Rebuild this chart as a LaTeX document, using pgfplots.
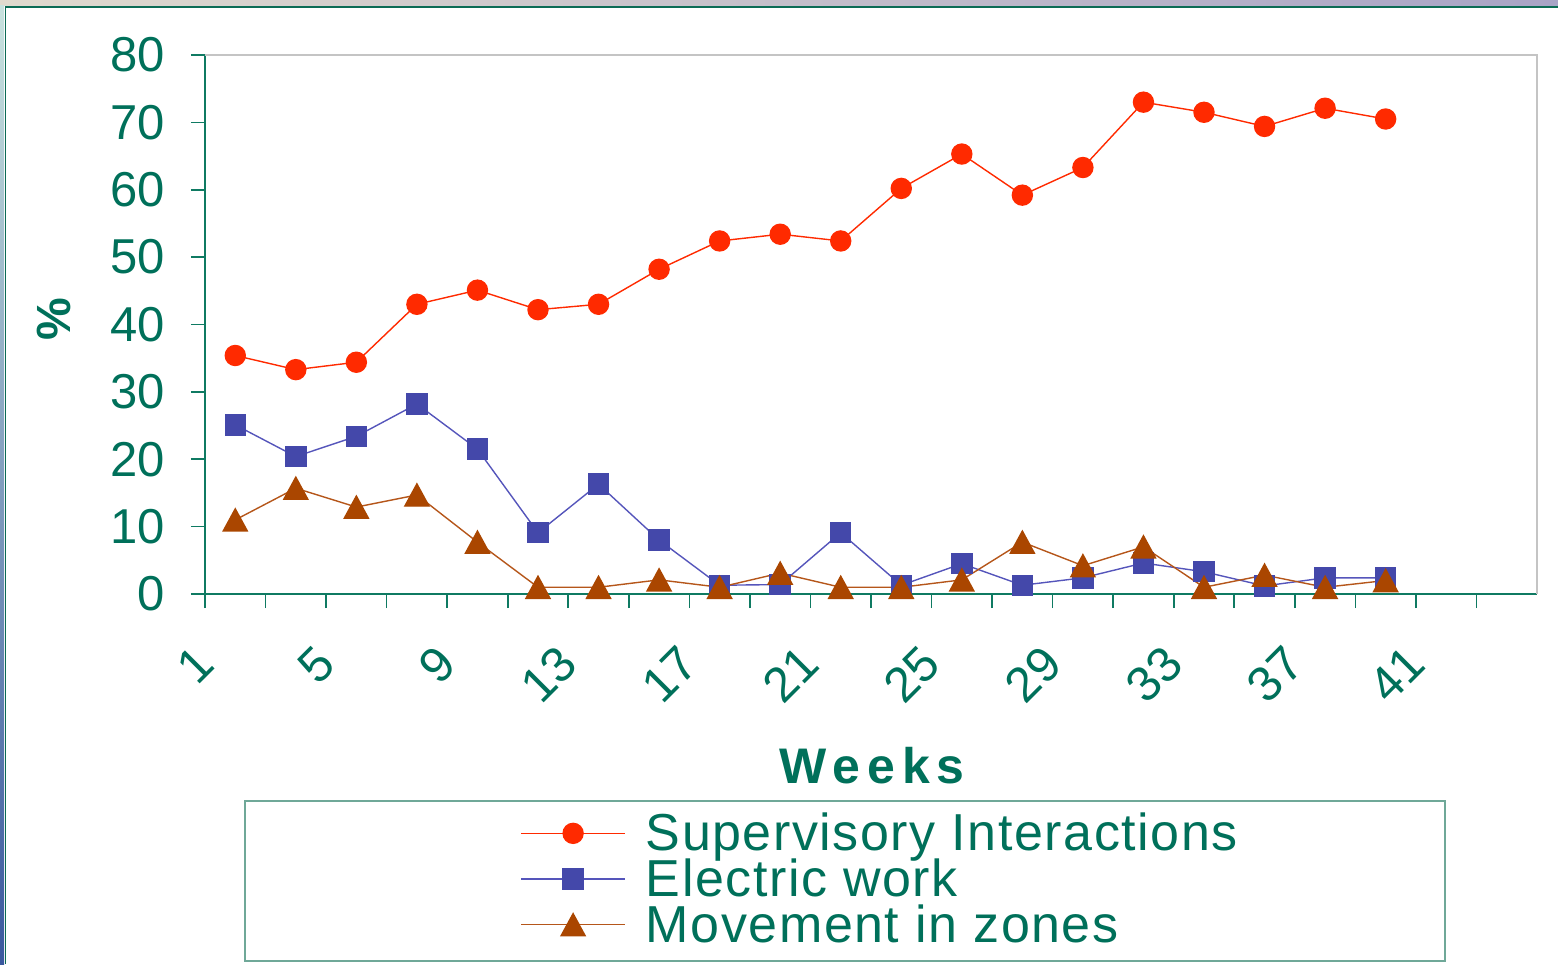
\documentclass[border=0pt]{standalone}
\usepackage{fontspec}
\setmainfont{Liberation Sans}
\usepackage{pgfplots}
\pgfplotsset{compat=1.18}

\definecolor{txt}{HTML}{00705A}
\definecolor{axteal}{HTML}{0F7A62}
\definecolor{frameteal}{HTML}{0C6B55}
\definecolor{lgframe}{HTML}{6FA898}
\definecolor{boxgrey}{HTML}{C4C4C4}
\definecolor{supred}{HTML}{FF2A00}
\definecolor{elblue}{HTML}{4448AA}
\definecolor{elline}{HTML}{5555BB}
\definecolor{mvbrown}{HTML}{AA4600}
\definecolor{mvline}{HTML}{B5561A}
\definecolor{topL}{RGB}{224,218,206}
\definecolor{topR}{RGB}{168,164,198}
\definecolor{sideT}{RGB}{200,226,222}
\definecolor{sideB}{RGB}{58,88,158}

% triangle centred on its bounding box
\pgfdeclareplotmark{ctri}{%
  \pgfpathmoveto{\pgfqpoint{0pt}{0.92\pgfplotmarksize}}%
  \pgfpathlineto{\pgfqpoint{-\pgfplotmarksize}{-0.92\pgfplotmarksize}}%
  \pgfpathlineto{\pgfqpoint{\pgfplotmarksize}{-0.92\pgfplotmarksize}}%
  \pgfpathclose
  \pgfusepathqfillstroke}

\begin{document}
\begin{tikzpicture}
\begin{axis}[
  at={(102.5pt,185pt)}, anchor=south west,
  scale only axis, width=666pt, height=269.5pt,
  xmin=1, xmax=45, ymin=0, ymax=80,
  axis x line=bottom, axis y line=left,
  axis line style={-, axteal, line width=0.9pt},
  xtick={1,5,...,41}, minor xtick={3,7,...,45},
  ytick={0,10,...,80},
  tick align=outside,
  major tick length=7pt, minor tick length=7pt,
  tick style={axteal, line width=0.8pt},
  /pgf/number format/assume math mode=true,
  ticklabel style={font=\fontsize{24.5}{24.5}\selectfont, text=txt, inner sep=0pt},
  xticklabel style={rotate=45, anchor=east},
  xticklabel shift=23.5pt,
  yticklabel style={anchor=east},
  yticklabel shift=13pt,
  xlabel={\addfontfeature{LetterSpace=14}Weeks},
  xlabel style={font=\fontsize{25}{25}\selectfont\bfseries, text=txt,
    at={(axis description cs:0.5008,-0.319)}, anchor=center},
  ylabel={\%},
  ylabel style={font=\fontsize{24}{24}\selectfont\bfseries, text=txt,
    at={(axis description cs:-0.113,0.51)}, anchor=center},
  legend style={at={(axis description cs:0.2365,-0.4056)}, anchor=north west,
    draw=none, fill=none, inner sep=0pt, row sep=2.5pt, column sep=10pt,
    font=\fontsize{26}{26}\selectfont\addfontfeature{LetterSpace=3}, text=txt,
    nodes={inner sep=0pt}},
  legend cell align=left,
  legend image code/.code={%
    \draw[mark repeat=2, mark phase=2] plot coordinates {(0pt,0pt) (26pt,0pt) (52pt,0pt)};},
  clip=false,
]
\draw[boxgrey, line width=1pt] (rel axis cs:0,1) -- (rel axis cs:1,1) -- (rel axis cs:1,0);

\addplot[supred, line width=0.7pt, mark=*, mark size=5pt,
  mark options={fill=supred, draw=supred}]
coordinates {
 (2,35.4) (4,33.3) (6,34.4) (8,43.0) (10,45.1) (12,42.2) (14,43.0) (16,48.2)
 (18,52.4) (20,53.4) (22,52.4) (24,60.2) (26,65.3) (28,59.2) (30,63.3)
 (32,73.0) (34,71.5) (36,69.4) (38,72.1) (40,70.5)
};
\addlegendentry{Supervisory Interactions}

\addplot[elline, line width=0.7pt, mark=square*, mark size=5pt,
  mark options={fill=elblue, draw=elblue}]
coordinates {
 (2,25.1) (4,20.4) (6,23.4) (8,28.2) (10,21.5) (12,9.1) (14,16.3) (16,8.0)
 (18,1.3) (20,1.4) (22,9.1) (24,1.3) (26,4.5) (28,1.3) (30,2.4)
 (32,4.6) (34,3.3) (36,1.2) (38,2.4) (40,2.4)
};
\addlegendentry{Electric work}

\addplot[mvline, line width=0.7pt, mark=ctri, mark size=6pt,
  mark options={fill=mvbrown, draw=mvbrown}]
coordinates {
 (2,11.0) (4,15.7) (6,12.9) (8,14.7) (10,7.7) (12,1.0) (14,1.0) (16,2.1)
 (18,1.0) (20,3.1) (22,1.0) (24,1.0) (26,2.1) (28,7.7) (30,4.2)
 (32,7.0) (34,1.0) (36,2.8) (38,1.0) (40,2.0)
};
\addlegendentry{Movement in zones}
\end{axis}
% page edge and chart frame
\shade[left color=topL, right color=topR] (0pt,479pt) rectangle (779pt,482pt);
\shade[top color=sideT, bottom color=sideB] (0pt,0pt) rectangle (2pt,479pt);
\draw[frameteal, line width=0.9pt] (2.7pt,0pt) -- (2.7pt,478.4pt) -- (779pt,478.4pt);
% legend frame
\draw[lgframe, line width=0.8pt] (122.5pt,1.5pt) rectangle (722.5pt,81.5pt);
\pgfresetboundingbox
\useasboundingbox (0pt,0pt) rectangle (779pt,482pt);
\end{tikzpicture}
\end{document}
